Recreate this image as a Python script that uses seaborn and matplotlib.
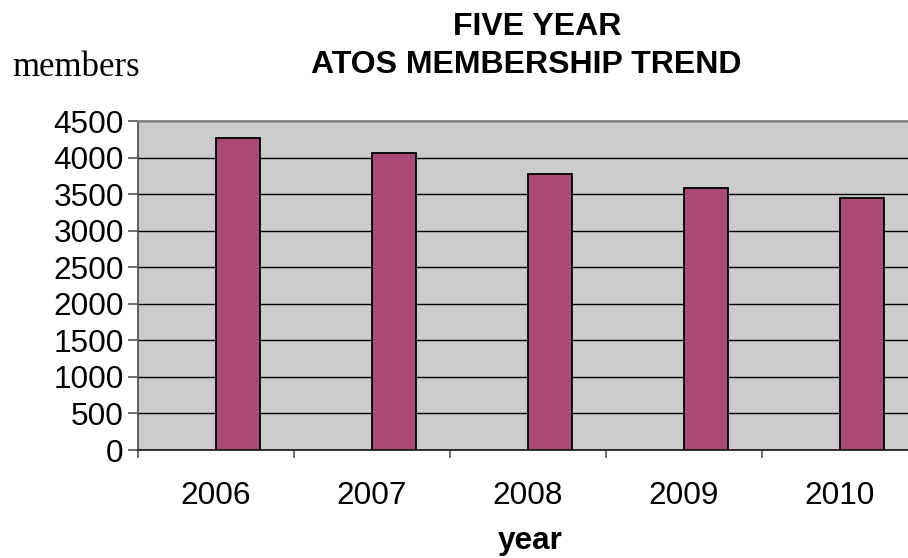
import numpy as np
import pandas as pd
import matplotlib
matplotlib.use("Agg")
import matplotlib.pyplot as plt
from matplotlib.ticker import FixedLocator
import seaborn as sns

# ---- data ----
years = ["2006", "2007", "2008", "2009", "2010"]
members = [4270, 4060, 3780, 3590, 3450]
# Excel clustered chart: an empty first series reserves the left half of each slot
empty_series = [np.nan, np.nan, np.nan, np.nan, np.nan]
y_ticks = [0, 500, 1000, 1500, 2000, 2500, 3000, 3500, 4000, 4500]

df = pd.DataFrame({
    "year": years * 2,
    "value": empty_series + members,
    "series": ["blank"] * len(years) + ["members"] * len(years),
})

sns.set_style("white")
plt.rcParams["font.family"] = ["Liberation Sans", "DejaVu Sans"]
plt.rcParams["text.color"] = "black"

fig = plt.figure(figsize=(9.08, 5.58), dpi=100)
ax = fig.add_axes([137.7 / 908, 108 / 558, 780 / 908, 329 / 558])
ax.set_facecolor("#CBCBCB")

sns.barplot(data=df, x="year", y="value", hue="series",
            hue_order=["blank", "members"], order=years,
            palette={"blank": "#A94975", "members": "#A94975"},
            width=0.5714, dodge=True, gap=0, legend=False,
            edgecolor="black", linewidth=1.3, saturation=1, ax=ax,
            errorbar=None)

ax.set_xlim(-0.5, 4.5)
ax.set_ylim(0, 4500)
ax.set_yticks(y_ticks)
ax.set_yticklabels([str(v) for v in y_ticks])
ax.yaxis.grid(True, color="black", linewidth=1.0)
ax.xaxis.grid(False)
ax.set_axisbelow(True)

ax.set_xlabel("")
ax.set_ylabel("")

# category ticks at slot boundaries, labels at slot centres
ax.xaxis.set_minor_locator(FixedLocator(np.arange(-0.5, 5.0, 1.0)))
ax.tick_params(axis="x", which="major", length=0, pad=22, labelsize=22.7, labelcolor="black")
ax.tick_params(axis="x", which="minor", length=6, width=1.2, color="#555555", direction="out", bottom=True)
ax.tick_params(axis="y", which="major", length=7, width=1.2, color="#555555", direction="out",
               left=True, pad=3, labelsize=22.7, labelcolor="black")

for side, sp in ax.spines.items():
    sp.set_visible(False)
ax.spines["left"].set_visible(True)
ax.spines["left"].set_color("#555555")
ax.spines["left"].set_linewidth(1.3)
ax.spines["bottom"].set_visible(True)
ax.spines["bottom"].set_color("#222222")
ax.spines["bottom"].set_linewidth(1.3)
ax.spines["top"].set_visible(True)
ax.spines["top"].set_color("#888888")
ax.spines["top"].set_linewidth(1.3)

# titles and labels
fig.text(537 / 908, 1 - 35 / 558, "FIVE YEAR", ha="center", va="baseline",
         fontsize=23, fontweight="bold", color="black")
fig.text(526 / 908, 1 - 73 / 558, "ATOS MEMBERSHIP TREND", ha="center", va="baseline",
         fontsize=23, fontweight="bold", color="black")
fig.text(12 / 908, 1 - 76 / 558, "members", ha="left", va="baseline",
         fontsize=25, family=["Liberation Serif", "DejaVu Serif"], color="black")
fig.text(530 / 908, 9 / 558, "year", ha="center", va="baseline",
         fontsize=22.7, fontweight="bold", color="black")

fig.savefig("out.png", dpi=100)
